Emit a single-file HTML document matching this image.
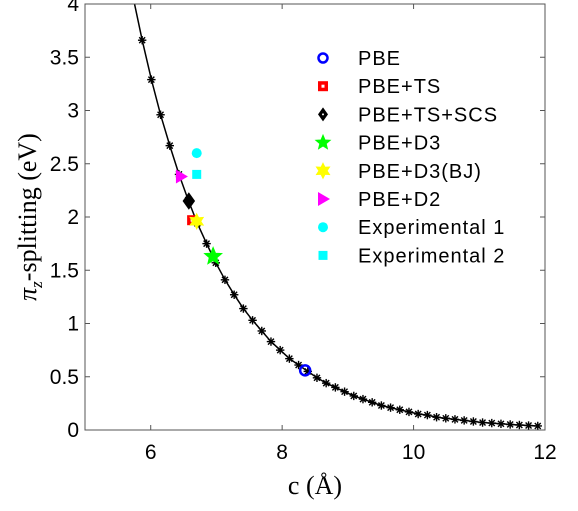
<!DOCTYPE html>
<html><head><meta charset="utf-8"><style>
body{margin:0;background:#fff;}
svg{display:block;}
text{font-family:"Liberation Sans",sans-serif;}
</style></head><body>
<svg id="chart" width="578" height="511" xmlns="http://www.w3.org/2000/svg">
<defs><clipPath id="clip"><rect x="85" y="4" width="460" height="426"/></clipPath></defs>
<g id="plot" clip-path="url(#clip)"></g>
<g id="axes"></g>
<g id="legend"></g>
<text x="315" y="494" text-anchor="middle" font-size="26" style="font-family:'Liberation Serif',serif">c (Å)</text>
<text transform="translate(36,217) rotate(-90)" text-anchor="middle" font-size="26" style="font-family:'Liberation Serif',serif"><tspan font-style="italic">π</tspan><tspan font-style="italic" font-size="17" dy="6">z</tspan><tspan dy="-6">-splitting (eV)</tspan></text>
</svg>
<script>
const curveX=[5.72,5.87,6.01,6.15,6.29,6.43,6.57,6.71,6.85,6.99,7.13,7.27,7.41,7.55,7.69,7.83,7.97,8.11,8.25,8.39,8.53,8.67,8.81,8.95,9.09,9.23,9.37,9.51,9.65,9.79,9.93,10.07,10.21,10.35,10.49,10.63,10.77,10.91,11.05,11.19,11.33,11.47,11.61,11.75,11.89];
const curveY=[4.10,3.66,3.29,2.96,2.67,2.40,2.16,1.94,1.75,1.57,1.41,1.27,1.14,1.03,0.93,0.83,0.75,0.67,0.61,0.55,0.49,0.44,0.40,0.36,0.32,0.29,0.26,0.23,0.21,0.19,0.17,0.15,0.14,0.12,0.11,0.10,0.09,0.08,0.07,0.065,0.058,0.052,0.047,0.042,0.038];
const seriesNames=["PBE","PBE+TS","PBE+TS+SCS","PBE+D3","PBE+D3(BJ)","PBE+D2","Experimental 1","Experimental 2"];
const seriesX=[8.35,6.63,6.58,6.95,6.70,6.46,6.70,6.70];
const seriesY=[0.56,1.97,2.15,1.63,1.96,2.38,2.60,2.40];
const xTicks=[6,8,10,12];
const yTicks=[0,0.5,1,1.5,2,2.5,3,3.5,4];
const yTickLabels=["0","0.5","1","1.5","2","2.5","3","3.5","4"];
const NS="http://www.w3.org/2000/svg";
const L=85,R=545,T=4,B=430;
const sx=v=>L+(v-5)/7*(R-L);
const sy=v=>B-v/4*(B-T);
function mk(tag,attrs,parent){const e=document.createElementNS(NS,tag);for(const k in attrs)e.setAttribute(k,attrs[k]);parent.appendChild(e);return e;}
const plot=document.getElementById('plot'),axes=document.getElementById('axes'),leg=document.getElementById('legend');
let d=curveX.map((x,i)=>(i?'L':'M')+sx(x).toFixed(1)+','+sy(curveY[i]).toFixed(1)).join(' ');
const line=mk('path',{d:d,fill:'none',stroke:'#000','stroke-width':1.5},plot);


function asterisk(x,y,p){const g=mk('g',{stroke:'#000','stroke-width':1.4},p);
 for(let a=0;a<180;a+=45){const r=a*Math.PI/180,c=Math.cos(r)*4.2,s=Math.sin(r)*4.2;mk('line',{x1:x-c,y1:y-s,x2:x+c,y2:y+s},g);}return g;}
curveX.forEach((x,i)=>{if(i===0)return;const g=asterisk(sx(x),sy(curveY[i]),plot);
 
 });
function star(x,y,r,ri,n,fill,p){let pts=[];for(let i=0;i<2*n;i++){const a=-Math.PI/2+i*Math.PI/n,rr=i%2?ri:r;pts.push((x+rr*Math.cos(a)).toFixed(1)+','+(y+rr*Math.sin(a)).toFixed(1));}
 return mk('polygon',{points:pts.join(' '),fill:fill,stroke:fill,'stroke-width':1},p);}
function marker(i,x,y,p,big){
 let e;const k=big?1.25:1;
 switch(i){
 case 0:e=mk('circle',{cx:x,cy:y,r:big?5:4.5,fill:'none',stroke:'#0000ff','stroke-width':2.5},p);break;
 case 1:e=mk('g',{},p);mk('rect',{x:x-5,y:y-5,width:10,height:10,fill:'#ff0000'},e);mk('rect',{x:x-1.5,y:y-1.5,width:3,height:3,fill:'#fff'},e);break;
 case 2:e=mk('g',{},p);mk('polygon',{points:`${x},${y-7*k} ${x+5*k},${y} ${x},${y+7*k} ${x-5*k},${y}`,fill:'#000'},e);if(!big)mk('circle',{cx:x,cy:y,r:1,fill:'#fff'},e);break;
 case 3:e=star(x,y,9,4,5,'#00ff00',p);break;
 case 4:e=star(x,y,7.5,4,6,'#ffff00',p);break;
 case 5:e=mk('polygon',{points:`${x-5},${y-7} ${x+7},${y} ${x-5},${y+7}`,fill:'#ff00ff'},p);break;
 case 6:e=mk('circle',{cx:x,cy:y,r:5,fill:'#00ffff'},p);break;
 case 7:e=mk('rect',{x:x-4.5,y:y-4.5,width:9,height:9,fill:'#00ffff'},p);break;
 }
 return e;}
seriesX.forEach((x,i)=>{const e=marker(i,sx(x),sy(seriesY[i]),plot,true);
 
 });
const frame=mk('rect',{x:L,y:T,width:R-L,height:B-T,fill:'none',stroke:'#555','stroke-width':1},axes);


xTicks.forEach(v=>{const x=sx(v);
 mk('line',{x1:x,y1:B,x2:x,y2:B-5,stroke:'#555'},axes);mk('line',{x1:x,y1:T,x2:x,y2:T+5,stroke:'#555'},axes);
 const t=mk('text',{x:x,y:B+29,'text-anchor':'middle','font-size':21},axes);t.textContent=String(v);
 
 });
yTicks.forEach((v,i)=>{const y=sy(v);
 mk('line',{x1:L,y1:y,x2:L+5,y2:y,stroke:'#555'},axes);mk('line',{x1:R,y1:y,x2:R-5,y2:y,stroke:'#555'},axes);
 const t=mk('text',{x:79,y:y+7,'text-anchor':'end','font-size':21},axes);t.textContent=yTickLabels[i];
 
 });
seriesNames.forEach((n,i)=>{const y=58+i*28.2;const g=mk('g',{},leg);
 
 
 const m=marker(i,323,y,g,false);
 if(i===3){m.setAttribute('transform',`translate(323,${y}) scale(0.85) translate(-323,${-y})`);}
 const t=mk('text',{x:358,y:y+7,'font-size':20,'letter-spacing':'1'},g);t.textContent=n;});
</script>
</body></html>
